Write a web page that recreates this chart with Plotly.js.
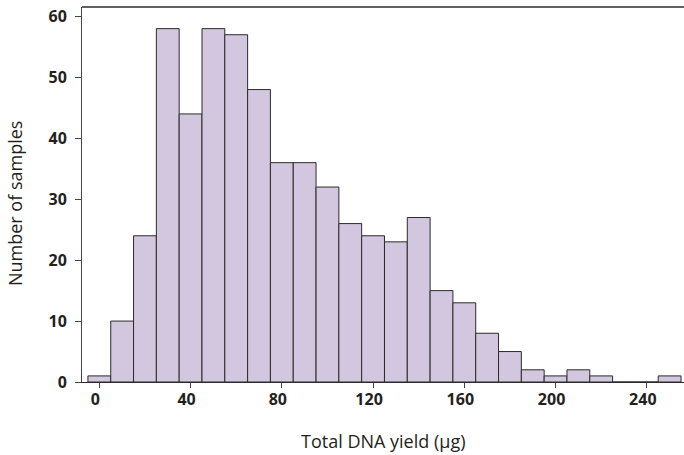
<!DOCTYPE html>
<html>
<head>
<meta charset="utf-8">
<script src="https://cdn.plot.ly/plotly-3.0.1.min.js"></script>
<style>html,body{margin:0;padding:0;background:#fff;}#chart{width:684px;height:455px;}</style>
</head>
<body>
<div id="chart"></div>
<script>
// Histogram bin centres (µg) and counts
var binCenters = [0, 10, 20, 30, 40, 50, 60, 70, 80, 90, 100, 110, 120, 130, 140, 150, 160, 170, 180, 190, 200, 210, 220, 230, 240, 250];
var counts     = [1, 10, 24, 58, 44, 58, 57, 48, 36, 36, 32, 26, 24, 23, 27, 15, 13, 8, 5, 2, 1, 2, 1, 0, 0, 1];
var xTicks = [0, 40, 80, 120, 160, 200, 240];
var yTicks = [0, 10, 20, 30, 40, 50, 60];
var binWidth = 10;

var tickFont = {family: '"Open Sans", "Noto Sans", sans-serif', size: 16, color: '#231f20', weight: 700};
var titleFont = {family: '"Open Sans", "Noto Sans", sans-serif', size: 18, color: '#231f20'};

var trace = {
  type: 'bar',
  x: binCenters,
  y: counts,
  width: binWidth,
  marker: {color: '#d3c6df', line: {color: '#2b2b2b', width: 1}},
  hoverinfo: 'x+y'
};

var layout = {
  width: 684, height: 455,
  margin: {l: 82, r: 0, t: 7, b: 73, pad: 0},
  paper_bgcolor: '#fff', plot_bgcolor: '#fff',
  showlegend: false,
  bargap: 0,
  xaxis: {
    range: [-7.6, 256.3],
    tickmode: 'array', tickvals: xTicks, ticktext: xTicks.map(String),
    ticks: 'outside', ticklen: 5, tickwidth: 1, tickcolor: '#444',
    showline: true, linecolor: '#2b2b2b', linewidth: 1.3,
    showgrid: false, zeroline: false,
    tickfont: tickFont, ticklabelshift: -4, ticklabelstandoff: -3
  },
  yaxis: {
    range: [0, 61.55],
    tickmode: 'array', tickvals: yTicks, ticktext: yTicks.map(String),
    ticks: 'outside', ticklen: 6, tickwidth: 1, tickcolor: '#444',
    showline: true, linecolor: '#444', linewidth: 1,
    showgrid: false, zeroline: false,
    tickfont: tickFont, ticklabelstandoff: 5
  },
  shapes: [{
    type: 'line', xref: 'paper', yref: 'paper', x0: 0, x1: 1, y0: 1, y1: 1,
    line: {color: '#2b2b2b', width: 1.5}
  }],
  annotations: [
    {text: 'Total DNA yield (µg)', xref: 'paper', yref: 'paper', x: 0.5, y: -0.158,
     xanchor: 'center', yanchor: 'middle', showarrow: false, font: titleFont},
    {text: 'Number of samples', xref: 'paper', yref: 'paper', x: -0.111, y: 0.475,
     xanchor: 'center', yanchor: 'middle', textangle: -90, showarrow: false, font: titleFont}
  ]
};

Plotly.newPlot('chart', [trace], layout, {displayModeBar: false, staticPlot: true});
</script>
</body>
</html>
